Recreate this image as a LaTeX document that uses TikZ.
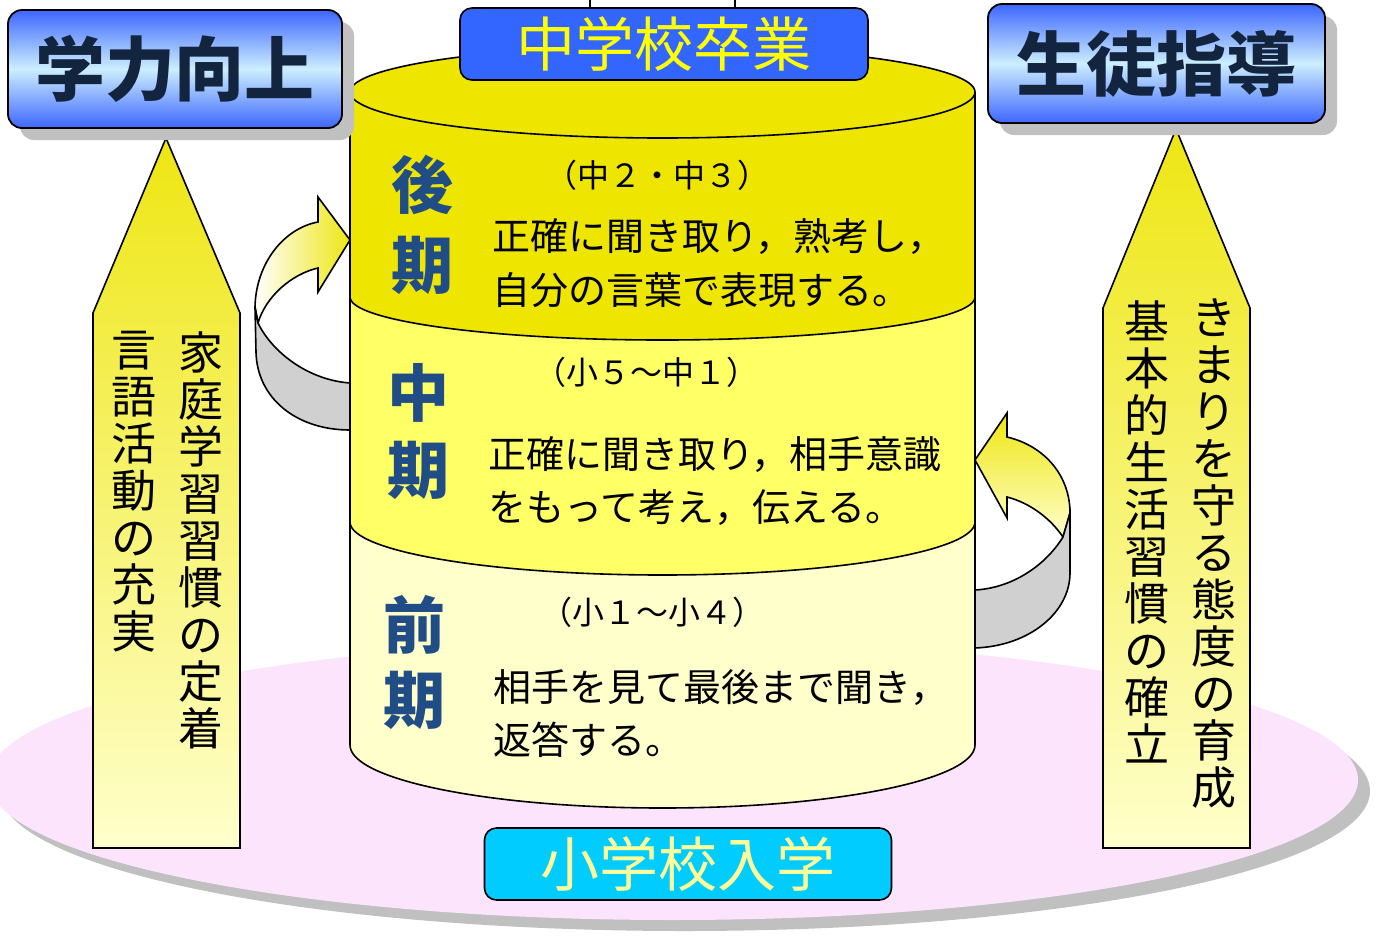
\documentclass[tikz,border=0pt]{standalone}
\usepackage{fontspec}
\newfontfamily\jp{Noto Sans CJK JP}
\usetikzlibrary{shadows}
\definecolor{cylDark}{HTML}{EEE600}
\definecolor{cylMid}{HTML}{FFFF66}
\definecolor{cylLight}{HTML}{FFFFCC}
\definecolor{pinkPlat}{HTML}{FCE5FC}
\definecolor{shadowGray}{HTML}{C0C0C0}
\definecolor{boxBlue}{HTML}{3D66FF}
\definecolor{boxLight}{HTML}{CCEEFF}
\definecolor{navyText}{HTML}{13243F}
\definecolor{headBlue}{HTML}{214D86}
\definecolor{gradBlue}{HTML}{3366FF}
\definecolor{cyanBox}{HTML}{00CCFF}
\definecolor{paleYellow}{HTML}{FFFF99}
\definecolor{brightYellow}{HTML}{FFFF00}
\definecolor{arrowTop}{HTML}{EEE612}
\definecolor{bandGray}{HTML}{D0D0D0}
\tikzset{
  bigbox/.style={draw=black, line width=0.9pt, rounded corners=7pt,
    top color=boxBlue, bottom color=boxBlue, middle color=boxLight,
    drop shadow={shadow xshift=6pt, shadow yshift=-6pt, fill=shadowGray, opacity=1},
    font=\jp\bfseries\fontsize{35}{35}\selectfont, text=navyText, inner sep=0pt},
  schoolbox/.style={draw=black, line width=0.8pt, rounded corners=6pt,
    minimum height=36pt, inner sep=0pt, font=\jp\fontsize{29.5}{29.5}\selectfont},
  headchar/.style={font=\jp\bfseries\fontsize{31}{31}\selectfont, text=headBlue, inner sep=0pt},
  bodyline/.style={font=\jp\fontsize{19}{19}\selectfont, anchor=west, inner sep=0pt},
  gradeline/.style={font=\jp\fontsize{16}{16}\selectfont, inner sep=0pt},
  vcol/.style={font=\jp\fontsize{22.5}{23.5}\selectfont, align=center, anchor=north, inner sep=0pt},
  pentagon/.style={draw=black, line width=0.8pt, top color=arrowTop, bottom color=cylLight},
  outline/.style={draw=black, line width=0.8pt}
}
\begin{document}
\begin{tikzpicture}[x=0.5pt, y=-0.5pt]
\useasboundingbox (0,0) rectangle (1378,943);
% platform
\fill[shadowGray] (685,791) ellipse [x radius=685, y radius=140];
\fill[pinkPlat] (673,780) ellipse [x radius=685, y radius=140];

% left curved arrow
\filldraw[outline, left color=white, right color=arrowTop]
  (255,307) .. controls (256,262) and (285,228) .. (318,222) -- (318,197) -- (350,240)
  -- (318,292) -- (318,268) .. controls (292,274) and (266,296) .. (258,323) -- cycle;
\filldraw[outline, fill=bandGray]
  (258,323) .. controls (272,352) and (308,380) .. (350,383) -- (350,430)
  .. controls (296,430) and (257,398) .. (256,352) -- (255,307) -- cycle;

% right curved arrow
\filldraw[outline, top color=arrowTop, bottom color=cylLight]
  (975,460) -- (1007,413) -- (1007,437) .. controls (1045,446) and (1070,476) .. (1070,513)
  -- (1063,537) .. controls (1050,518) and (1030,503) .. (1007,497) -- (1007,518) -- cycle;
\filldraw[outline, fill=bandGray]
  (1063,537) .. controls (1045,566) and (1012,588) .. (975,590) -- (975,648)
  .. controls (1030,646) and (1070,612) .. (1070,573) -- (1070,513) -- cycle;

% cylinder
\fill[cylLight] (350,92) -- (350,745) arc[start angle=180, end angle=0, x radius=312.5, y radius=63] -- (975,92) -- cycle;
\fill[cylMid] (350,92) -- (350,522) arc[start angle=180, end angle=0, x radius=312.5, y radius=53] -- (975,92) -- cycle;
\fill[cylDark] (350,92) -- (350,297) arc[start angle=180, end angle=0, x radius=312.5, y radius=43] -- (975,92) -- cycle;
\draw[outline] (350,92) -- (350,745) arc[start angle=180, end angle=0, x radius=312.5, y radius=63] -- (975,92);
\draw[outline] (350,297) arc[start angle=180, end angle=0, x radius=312.5, y radius=43];
\draw[outline] (350,522) arc[start angle=180, end angle=0, x radius=312.5, y radius=53];
\filldraw[outline, fill=cylDark] (662.5,92) ellipse [x radius=312.5, y radius=46];

% pentagon arrows
\filldraw[pentagon] (166,138) -- (240,313) -- (240,848) -- (93,848) -- (93,313) -- cycle;
\filldraw[pentagon] (1176,129) -- (1250,308) -- (1250,848) -- (1103,848) -- (1103,308) -- cycle;
\node[vcol] (kateigakushu) at (200.5,331) {家\\庭\\学\\習\\習\\慣\\の\\定\\着};
\node[vcol] (gengokatsudo) at (134.5,331) {言\\語\\活\\動\\の\\充\\実};
\node[vcol] (kimari) at (1213.5,298) {き\\ま\\り\\を\\守\\る\\態\\度\\の\\育\\成};
\node[vcol] (kihonteki) at (1147,300) {基\\本\\的\\生\\活\\習\\慣\\の\\確\\立};

% top boxes
\node[bigbox, minimum width=167pt, minimum height=59pt] (gakuryoku) at (175,69) {学力向上};
\node[bigbox, minimum width=168.5pt, minimum height=59.5pt] (seito) at (1156.5,63.5) {生徒指導};
\node[draw=black, fill=white, line width=0.8pt, minimum width=72.5pt, minimum height=10pt, inner sep=0pt] (toptab) at (662.5,0) {};
\node[schoolbox, fill=gradBlue, text=brightYellow, minimum width=204pt] (chugaku) at (664,44) {中学校卒業};
\node[schoolbox, fill=cyanBox, text=paleYellow, minimum width=203.5pt] (shogaku) at (688,864) {小学校入学};

% stage headings
\node[headchar] (ko1) at (422,185) {後};
\node[headchar] (ko2) at (422,265) {期};
\node[headchar] (chu1) at (418,393) {中};
\node[headchar] (chu2) at (418,470) {期};
\node[headchar] (zen1) at (414,625) {前};
\node[headchar] (zen2) at (414,700) {期};

% stage texts
\node[gradeline] (g3) at (657,175) {（中２・中３）};
\node[bodyline] (k1) at (492,237) {正確に聞き取り，熟考し，};
\node[bodyline] (k2) at (492,290) {自分の言葉で表現する。};
\node[gradeline] (g2) at (646,372) {（小５～中１）};
\node[bodyline] (m1) at (488,455) {正確に聞き取り，相手意識};
\node[bodyline] (m2) at (488,508) {をもって考え，伝える。};
\node[gradeline] (g1) at (652,612) {（小１～小４）};
\node[bodyline] (z1) at (493,688) {相手を見て最後まで聞き，};
\node[bodyline] (z2) at (493,740) {返答する。};
\end{tikzpicture}
\end{document}
